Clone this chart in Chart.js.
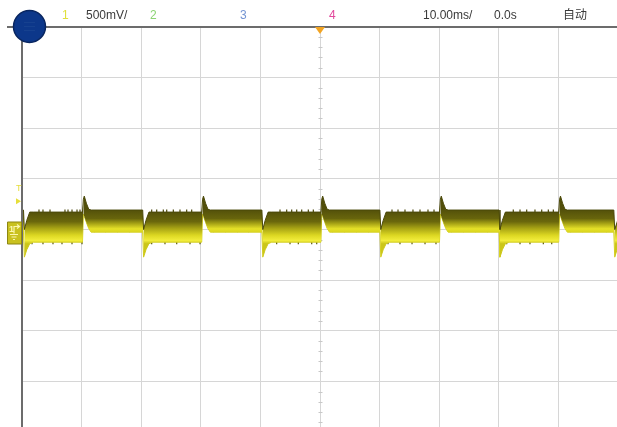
<!DOCTYPE html>
<html>
<head>
<meta charset="utf-8">
<script src="https://cdn.jsdelivr.net/npm/chart.js@4/dist/chart.umd.min.js"></script>
<style>
  html, body { margin: 0; padding: 0; background: #fff; overflow: hidden; width: 617px; height: 427px; }
  #wrap { position: relative; width: 617px; height: 427px; overflow: hidden; background: #fff; }
  #c { position: absolute; left: 0; top: 0; }
  .lbl { position: absolute; top: 8px; font: 12px "Liberation Sans", Arial, sans-serif; line-height: 14px; color: #3a3a3a; white-space: nowrap; }
  .cjk { font-family: "Noto Sans CJK SC", sans-serif; font-size: 12px; top: 7px; }
  .mark { position: absolute; font: bold 9px "Liberation Sans", Arial, sans-serif; line-height: 10px; white-space: nowrap; }
</style>
</head>
<body>
<div id="wrap">
  <canvas id="c" width="640" height="450" style="width:640px;height:450px"></canvas>
  <span class="lbl" style="left:62px;color:#e0e03c">1</span>
  <span class="lbl" style="left:86px">500mV/</span>
  <span class="lbl" style="left:150px;color:#8cd474">2</span>
  <span class="lbl" style="left:240px;color:#7494d2">3</span>
  <span class="lbl" style="left:329px;color:#e2489c">4</span>
  <span class="lbl" style="left:423px">10.00ms/</span>
  <span class="lbl" style="left:494px">0.0s</span>
  <span class="lbl cjk" style="left:563px">自动</span>
  <span class="mark" style="left:16px;top:183px;color:#e6de3a;font-weight:normal">T</span>
  <span class="mark" style="left:9px;top:224px;color:#fbf6b0">1</span>
</div>
<script>
// Channel 1 capture, 10 ms/div horizontal, 500 mV/div vertical.
// Persistence envelope: upper and lower edges of the accumulated trace band.
const timeMs = [
  -50.0, -49.75, -49.6, -49.2, -48.7, -48.1,
  -39.85, -39.7, -39.55, -39.2, -38.8, -38.4,
  -29.75, -29.6, -29.2, -28.7, -28.1,
  -19.85, -19.7, -19.55, -19.2, -18.8, -18.4,
  -9.75, -9.6, -9.2, -8.7, -8.1,
  0.15, 0.3, 0.45, 0.8, 1.2, 1.6,
  10.05, 10.2, 10.6, 11.1, 11.7,
  20.05, 20.2, 20.35, 20.7, 21.1, 21.5,
  30.05, 30.2, 30.6, 31.1, 31.7,
  40.05, 40.2, 40.35, 40.7, 41.1, 41.5,
  49.3, 49.45, 50.0
];
const upperV = [
  0.192, 0.192, 0.0, 0.09, 0.172, 0.172,
  0.172, 0.30, 0.33, 0.26, 0.20, 0.192,
  0.192, 0.0, 0.09, 0.172, 0.172,
  0.172, 0.30, 0.33, 0.26, 0.20, 0.192,
  0.192, 0.0, 0.09, 0.172, 0.172,
  0.172, 0.30, 0.33, 0.26, 0.20, 0.192,
  0.192, 0.0, 0.09, 0.172, 0.172,
  0.172, 0.30, 0.33, 0.26, 0.20, 0.192,
  0.192, 0.0, 0.09, 0.172, 0.172,
  0.172, 0.30, 0.33, 0.26, 0.20, 0.192,
  0.192, 0.0, 0.10
];
const lowerV = [
  -0.026, -0.026, -0.273, -0.20, -0.14, -0.125,
  -0.125, 0.15, 0.13, 0.07, 0.01, -0.026,
  -0.026, -0.273, -0.20, -0.14, -0.125,
  -0.125, 0.15, 0.13, 0.07, 0.01, -0.026,
  -0.026, -0.273, -0.20, -0.14, -0.125,
  -0.125, 0.15, 0.13, 0.07, 0.01, -0.026,
  -0.026, -0.273, -0.20, -0.14, -0.125,
  -0.125, 0.15, 0.13, 0.07, 0.01, -0.026,
  -0.026, -0.273, -0.20, -0.14, -0.125,
  -0.125, 0.15, 0.13, 0.07, 0.01, -0.026,
  -0.026, -0.273, -0.17
];
// Edge instants (ms) separating the low and high halves of each cycle
const fallingEdgesMs = [-49.7, -29.7, -9.7, 10.1, 30.1, 49.35];
const risingEdgesMs = [-39.8, -19.8, 0.2, 20.1, 40.1];
// Short glitches riding on the low half
const glitchTopMs = [
  -47.15, -46.48, -45.30, -42.79, -42.28, -41.61, -40.77, -40.27,
  -28.24, -27.40, -26.29, -25.72, -24.61, -23.49, -22.37, -21.53,
  -6.71, -5.59, -4.75, -3.91, -3.07, -1.96, -1.12,
  12.08, 13.09, 14.26, 15.60, 16.78, 18.12, 19.13,
  32.43, 33.56, 34.68, 36.07, 37.20, 38.31, 39.15
];
const glitchBottomMs = [
  -48.32, -46.48, -44.80, -43.29, -41.61, -39.93,
  -28.24, -26.01, -24.04, -21.81, -20.13,
  -7.27, -5.03, -3.64, -1.39, -0.55,
  11.41, 13.42, 15.44, 17.62, 19.46,
  31.32, 33.56, 35.23, 37.47, 38.88
];
const glitchTopV = 0.182;
const glitchBottomV = -0.132;
const triggerLevelV = 0.28;
const timeRange = [-50, 50];
const voltRange = [-2, 2];

function isHighAt(t) {
  let last = null, kind = 'high';
  for (const f of fallingEdgesMs) if (f <= t && (last === null || f > last)) { last = f; kind = 'low'; }
  for (const r of risingEdgesMs) if (r <= t && (last === null || r > last)) { last = r; kind = 'high'; }
  return kind === 'high';
}

const gradCache = {};
function bandGradient(chart, high) {
  const key = (high ? 'h' : 'l') + chart.chartArea.top + '_' + chart.chartArea.bottom;
  if (gradCache[key]) return gradCache[key];
  const y = chart.scales.y;
  const c = chart.ctx;
  let g;
  if (high) {
    g = c.createLinearGradient(0, y.getPixelForValue(0.20), 0, y.getPixelForValue(-0.03));
    g.addColorStop(0.0, '#524f0a');
    g.addColorStop(0.40, '#68650c');
    g.addColorStop(0.60, '#a39f14');
    g.addColorStop(0.84, '#e6e128');
    g.addColorStop(1.0, '#d8d31d');
  } else {
    g = c.createLinearGradient(0, y.getPixelForValue(0.18), 0, y.getPixelForValue(-0.14));
    g.addColorStop(0.0, '#524f0a');
    g.addColorStop(0.32, '#6a670c');
    g.addColorStop(0.52, '#a6a214');
    g.addColorStop(0.74, '#dcd722');
    g.addColorStop(0.9, '#f2ed3c');
    g.addColorStop(1.0, '#cbc61a');
  }
  gradCache[key] = g;
  return g;
}

const scopeDecor = {
  id: 'scopeDecor',
  beforeDatasetsDraw(chart) {
    const c = chart.ctx, xs = chart.scales.x, ys = chart.scales.y;
    const x0 = Math.round(xs.getPixelForValue(0)) + 0.5;
    const y0 = Math.round(ys.getPixelForValue(0)) + 0.5;
    c.save();
    c.strokeStyle = '#c8c8c8';
    c.lineWidth = 1;
    c.beginPath();
    for (let k = -20; k <= 20; k++) {
      if (k % 5 === 0) continue;
      const py = Math.round(ys.getPixelForValue(k * 0.1)) + 0.5;
      c.moveTo(x0 - 2, py); c.lineTo(x0 + 2, py);
    }
    for (let k = -25; k <= 25; k++) {
      if (k % 5 === 0) continue;
      const px = Math.round(xs.getPixelForValue(k * 2)) + 0.5;
      c.moveTo(px, y0 - 2); c.lineTo(px, y0 + 2);
    }
    c.stroke();
    c.restore();
  },
  afterDraw(chart) {
    const c = chart.ctx, a = chart.chartArea, xs = chart.scales.x, ys = chart.scales.y;
    c.save();
    // frame: top rule and left rule
    c.strokeStyle = '#6c6c6c';
    c.lineWidth = 2;
    c.beginPath();
    c.moveTo(7, a.top); c.lineTo(chart.width, a.top);
    c.moveTo(a.left, a.top); c.lineTo(a.left, chart.height);
    c.stroke();
    // trigger position marker
    const tx = xs.getPixelForValue(0);
    c.fillStyle = '#f2a423';
    c.beginPath();
    c.moveTo(tx - 5, a.top); c.lineTo(tx + 5, a.top); c.lineTo(tx, a.top + 7); c.closePath();
    c.fill();
    // trigger level arrow
    const ty = ys.getPixelForValue(triggerLevelV);
    c.fillStyle = '#e6de3a';
    c.beginPath();
    c.moveTo(16, ty - 3); c.lineTo(21, ty); c.lineTo(16, ty + 3); c.closePath();
    c.fill();
    // channel 1 ground marker
    const gy = ys.getPixelForValue(0);
    c.fillStyle = '#c9c11f';
    c.strokeStyle = '#8d8612';
    c.lineWidth = 1;
    c.beginPath();
    c.rect(7.5, gy - 7.5, 14, 22);
    c.fill(); c.stroke();
    c.strokeStyle = '#fbf6b0';
    c.lineWidth = 1.2;
    c.beginPath();
    c.moveTo(14, gy + 4); c.lineTo(14, gy - 3); c.lineTo(19, gy - 3);
    c.moveTo(17, gy - 5); c.lineTo(19.5, gy - 3); c.lineTo(17, gy - 1);
    c.moveTo(10, gy + 5); c.lineTo(18, gy + 5);
    c.moveTo(11.5, gy + 7.5); c.lineTo(16.5, gy + 7.5);
    c.moveTo(13, gy + 10); c.lineTo(15, gy + 10);
    c.stroke();
    // menu button
    c.fillStyle = '#0c378a';
    c.strokeStyle = '#092660';
    c.lineWidth = 1.5;
    c.beginPath();
    c.arc(29.5, 26.5, 16, 0, Math.PI * 2);
    c.fill(); c.stroke();
    c.strokeStyle = '#16418f';
    c.lineWidth = 1.2;
    c.beginPath();
    for (const dy of [-4, 0, 4]) { c.moveTo(24, 26.5 + dy); c.lineTo(35, 26.5 + dy); }
    c.stroke();
    c.restore();
  }
};

const ctx = document.getElementById('c').getContext('2d');
new Chart(ctx, {
  type: 'line',
  data: {
    datasets: [
      {
        label: 'CH1 upper',
        data: timeMs.map((t, i) => ({ x: t, y: upperV[i] })),
        fill: '+1',
        borderColor: '#4b4909',
        borderWidth: 1,
        backgroundColor: '#8a8612',
        pointRadius: 0,
        tension: 0,
        segment: {
          backgroundColor: (sc) => bandGradient(sc.chart, isHighAt(sc.p0.parsed.x))
        }
      },
      {
        label: 'CH1 lower',
        data: timeMs.map((t, i) => ({ x: t, y: lowerV[i] })),
        fill: false,
        borderColor: '#d2cd1c',
        borderWidth: 1,
        pointRadius: 0,
        tension: 0
      },
      {
        type: 'scatter',
        label: 'glitch high',
        data: glitchTopMs.map(t => ({ x: t, y: glitchTopV })),
        pointStyle: 'line',
        rotation: 90,
        radius: 1.6,
        borderColor: '#4a470b',
        borderWidth: 1.2
      },
      {
        type: 'scatter',
        label: 'glitch low',
        data: glitchBottomMs.map(t => ({ x: t, y: glitchBottomV })),
        pointStyle: 'line',
        rotation: 90,
        radius: 1.4,
        borderColor: '#55520d',
        borderWidth: 1.2
      }
    ]
  },
  options: {
    responsive: false,
    animation: false,
    devicePixelRatio: 1,
    layout: { padding: { left: 22, top: 27, right: 22, bottom: 18 } },
    plugins: { legend: { display: false }, tooltip: { enabled: false } },
    scales: {
      x: {
        type: 'linear', min: timeRange[0], max: timeRange[1],
        ticks: { display: false, stepSize: 10 },
        grid: { color: '#d6d6d6', lineWidth: 1, drawTicks: false },
        border: { display: false }
      },
      y: {
        type: 'linear', min: voltRange[0], max: voltRange[1],
        ticks: { display: false, stepSize: 0.5 },
        grid: { color: '#d6d6d6', lineWidth: 1, drawTicks: false },
        border: { display: false }
      }
    }
  },
  plugins: [scopeDecor]
});
</script>
</body>
</html>
